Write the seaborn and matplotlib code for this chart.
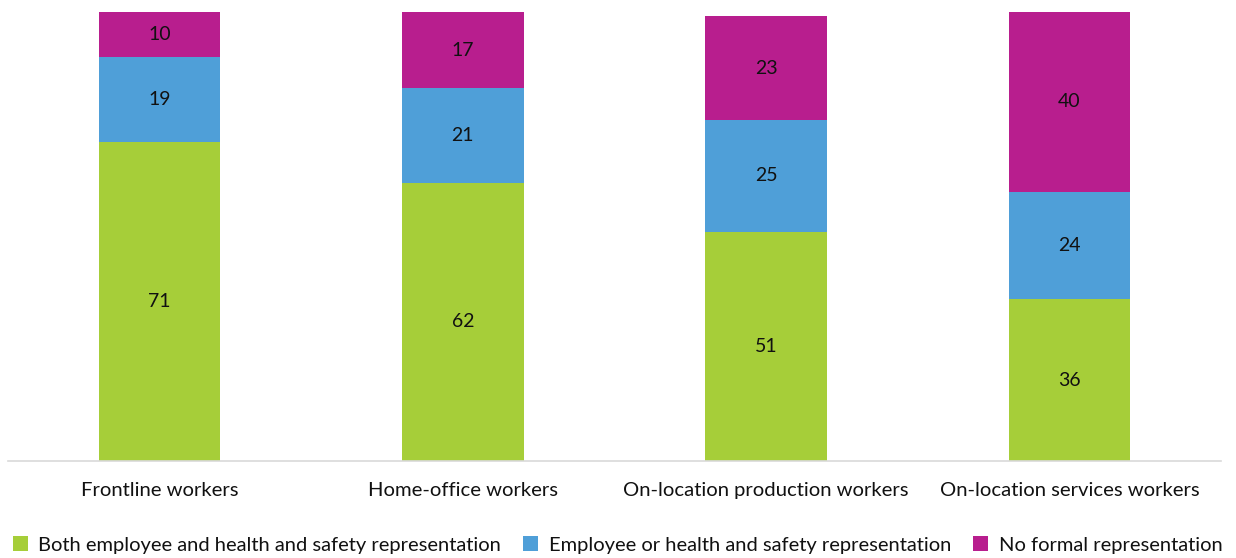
import matplotlib
matplotlib.use("Agg")
import matplotlib.pyplot as plt
import seaborn as sns
import pandas as pd
from matplotlib.patches import Patch

categories = ["Frontline workers", "Home-office workers",
              "On-location production workers", "On-location services workers"]
both_rep = [71, 62, 51, 36]
either_rep = [19, 21, 25, 24]
no_rep = [10, 17, 23, 40]
series_names = ["Both employee and health and safety representation",
                "Employee or health and safety representation",
                "No formal representation"]
colors = ["#A6CE39", "#4F9FD8", "#B81E8E"]

sns.set_theme(style="white")
plt.rcParams["font.family"] = ["Lato", "DejaVu Sans"]

df = pd.DataFrame({"category": categories, "both": both_rep,
                   "either": either_rep, "none": no_rep})
df["lvl1"] = df["both"]
df["lvl2"] = df["both"] + df["either"]
df["lvl3"] = df["lvl2"] + df["none"]

fig = plt.figure(figsize=(12.36, 5.58), dpi=100)
ax = fig.add_axes([8 / 1236, 1 - 461 / 558, (1221 - 8) / 1236, (461 - 12) / 558])

# Stacked bars drawn as overlapping cumulative totals
for col, color in zip(["lvl3", "lvl2", "lvl1"], colors[::-1]):
    sns.barplot(data=df, x="category", y=col, color=color, width=0.4,
                saturation=1, ax=ax, edgecolor="none", linewidth=0)

for i, row in df.iterrows():
    bottoms = [0, row["lvl1"], row["lvl2"]]
    for b, v in zip(bottoms, [row["both"], row["either"], row["none"]]):
        ax.text(i, b + v / 2, f"{v}", ha="center", va="center",
                fontsize=14, color="#111111")

ax.set_ylim(0, 100)
ax.set_xlim(-0.5, 3.5)
ax.set_xlabel("")
ax.set_ylabel("")
ax.set_yticks([])
for s in ["top", "left", "right"]:
    ax.spines[s].set_visible(False)
ax.spines["bottom"].set_color("#D9D9D9")
ax.spines["bottom"].set_linewidth(1.2)
ax.tick_params(axis="x", length=0, pad=15, labelsize=14.6, labelcolor="#111111")

handles = [Patch(facecolor=c, edgecolor="none") for c in colors]
fig.legend(handles, series_names, loc="center", ncol=3, frameon=False,
           bbox_to_anchor=(0.4998, 1 - 545 / 558), fontsize=14.5,
           handlelength=0.72, handleheight=0.72, handletextpad=0.54,
           columnspacing=1.1, borderpad=0, labelcolor="#111111")

fig.savefig("out.png", dpi=100)
